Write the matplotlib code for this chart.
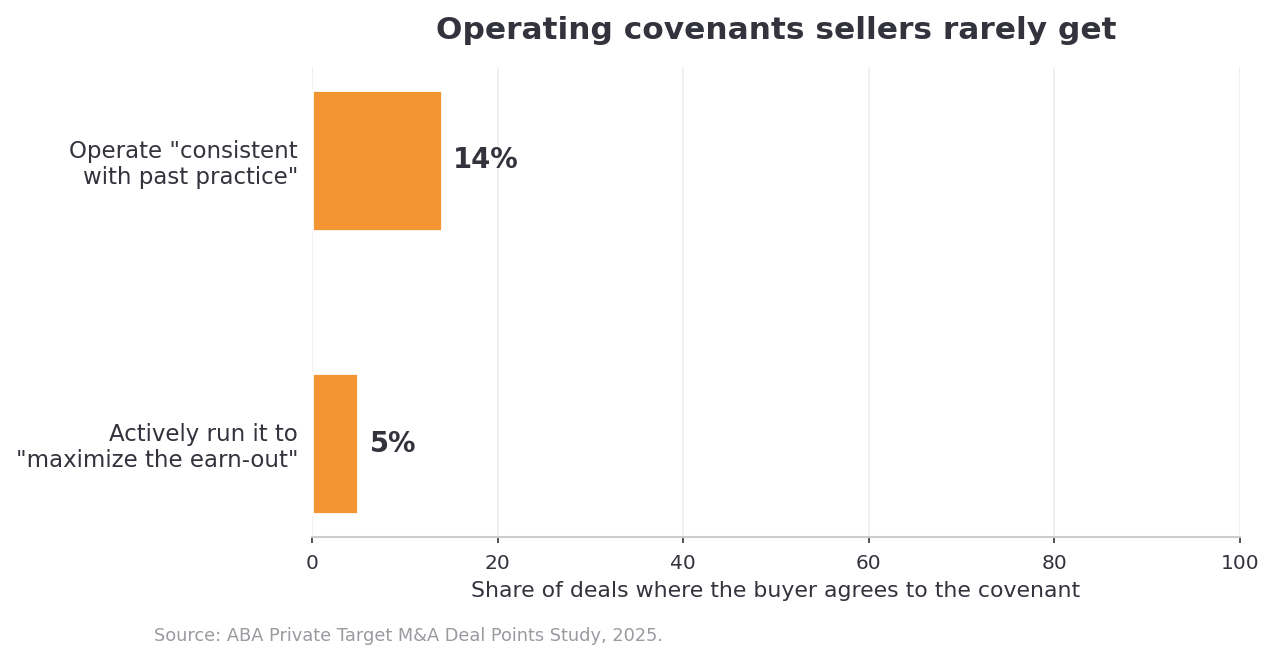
import matplotlib.pyplot as plt
import numpy as np

categories = ['Operate "consistent\nwith past practice"',
              'Actively run it to\n"maximize the earn-out"']
shares = [14, 5]
value_labels = ['14%', '5%']
xticks = [0, 20, 40, 60, 80, 100]

text_col = '#33333d'
bar_col = '#f39533'

fig = plt.figure(figsize=(12.75, 6.6), dpi=100)
ax = fig.add_axes([312 / 1275, 1 - 537 / 660, 928 / 1275, 470 / 660])

y = np.arange(len(categories))
ax.barh(y, shares, height=0.5, color=bar_col, edgecolor='white', linewidth=2, zorder=3)
for yi, v, lab in zip(y, shares, value_labels):
    ax.text(v + 1.2, yi, lab, va='center', ha='left', fontsize=19.8,
            fontweight='bold', color=text_col, zorder=4)

ax.set_xlim(0, 100)
ax.set_ylim(1.33, -0.33)
ax.set_xticks(xticks)
ax.set_yticks(y)
ax.set_yticklabels(categories, fontsize=16.5, color=text_col, linespacing=1.15)
ax.tick_params(axis='y', length=0, pad=10)
ax.tick_params(axis='x', labelsize=14.5, colors=text_col, length=4, width=1.2, pad=8)
ax.grid(axis='x', color='#eeeeee', linewidth=1.2, zorder=0)
for s in ['top', 'right', 'left']:
    ax.spines[s].set_visible(False)
ax.spines['bottom'].set_color('#cccccc')
ax.spines['bottom'].set_linewidth(1.5)

ax.set_xlabel('Share of deals where the buyer agrees to the covenant',
              fontsize=15.8, color=text_col, labelpad=6)
ax.set_title('Operating covenants sellers rarely get', fontsize=22.5,
             fontweight='bold', color=text_col, pad=20)
fig.text(154 / 1275, 1 - 636 / 660, 'Source: ABA Private Target M&A Deal Points Study, 2025.',
         fontsize=12.75, color='#9a9aa0', va='center', ha='left')

fig.savefig('out.png', dpi=100)
